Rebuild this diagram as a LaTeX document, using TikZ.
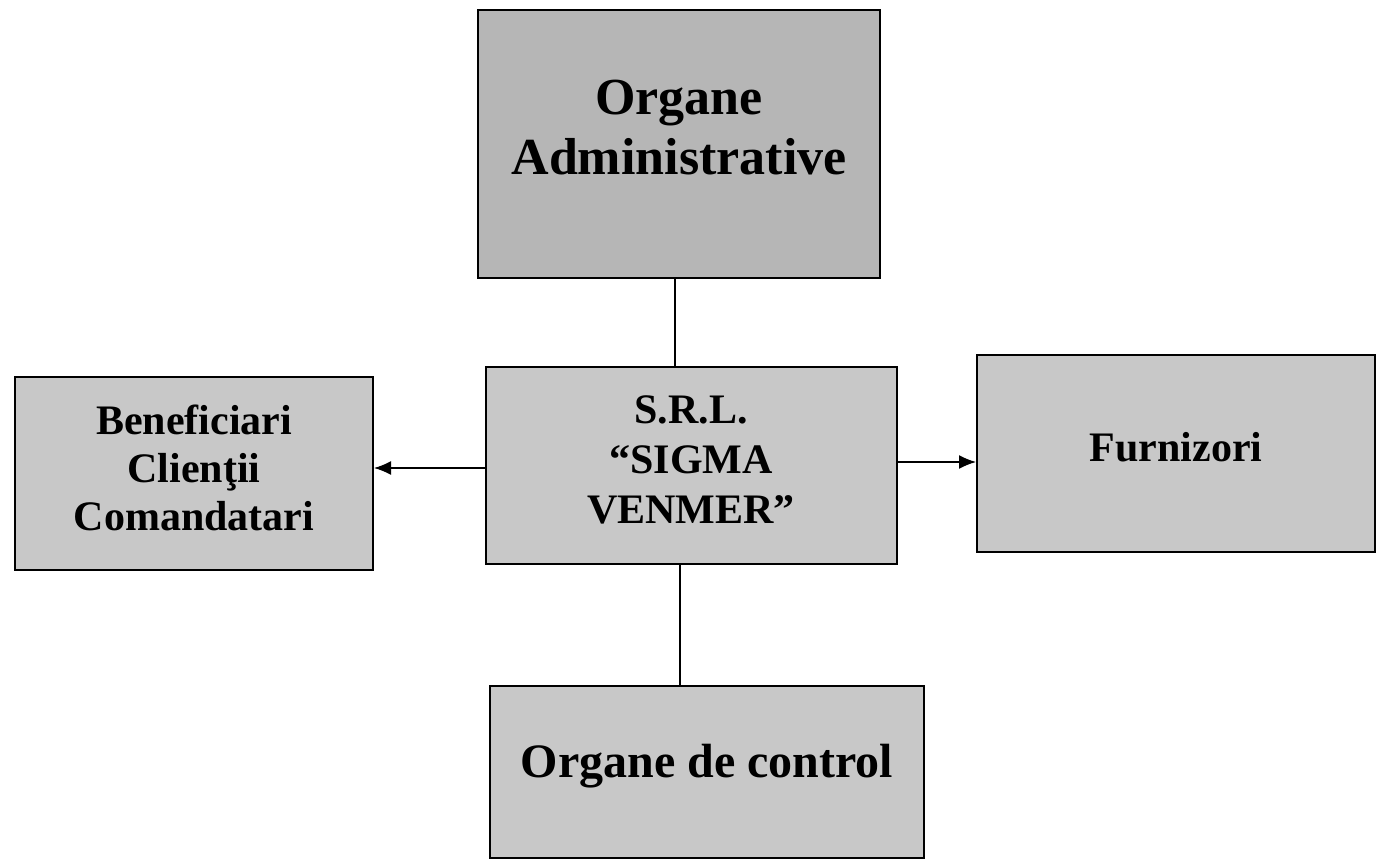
\documentclass[tikz,border=0pt]{standalone}
\usepackage{fontspec}
\setmainfont{Liberation Serif}
\usetikzlibrary{arrows.meta}
\definecolor{boxgray}{RGB}{200,200,200}
\definecolor{topgray}{RGB}{182,182,182}
\tikzset{
  box/.style={draw=black, line width=2pt, fill=boxgray, rectangle, inner sep=0pt},
  txt/.style={align=center, font=\bfseries, inner sep=0pt},
  conn/.style={draw=black, line width=1.5pt},
  arr/.style={conn, -{Latex[length=17pt,width=14pt]}}
}
\begin{document}
\begin{tikzpicture}[x=1pt,y=-1pt]
\useasboundingbox (0,0) rectangle (1380,866);
\fill[white] (0,0) rectangle (1380,866);
% boxes
\node[box, fill=topgray, minimum width=402pt, minimum height=268pt] (adm) at (679,144) {};
\node[box, minimum width=411pt, minimum height=197pt] (srl) at (691,465) {};
\node[box, minimum width=358pt, minimum height=193pt] (ben) at (194,473) {};
\node[box, minimum width=398pt, minimum height=197pt] (fur) at (1176,453) {};
\node[box, minimum width=434pt, minimum height=172pt] (ctl) at (707,772) {};
% texts
\node[txt, font=\fontsize{52}{60}\selectfont\bfseries] (admt) at (679,128) {Organe\\Administrative};
\node[txt, font=\fontsize{42}{50}\selectfont\bfseries] (srlt) at (691,460) {S.R.L.\\“SIGMA\\VENMER”};
\node[txt, font=\fontsize{42}{48}\selectfont\bfseries] (bent) at (194,468) {Beneficiari\\Clienţii\\Comandatari};
\node[txt, font=\fontsize{42}{50}\selectfont\bfseries] (furt) at (1176,447) {Furnizori};
\node[txt, font=\fontsize{48}{56}\selectfont\bfseries] (ctlt) at (707,766) {Organe de control};
% connectors
\draw[conn] (adm.south -| 675,0) -- (srl.north -| 675,0);
\draw[conn] (srl.south -| 680,0) -- (ctl.north -| 680,0);
\draw[arr] (srl.west |- 0,468) -- (ben.east |- 0,468);
\draw[arr] (srl.east |- 0,462) -- (fur.west |- 0,462);
\end{tikzpicture}
\end{document}
